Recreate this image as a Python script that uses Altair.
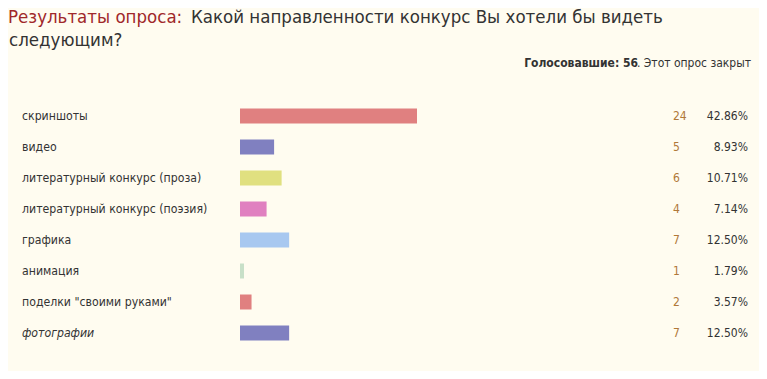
import altair as alt
import pandas as pd

labels = ["скриншоты", "видео", "литературный конкурс (проза)", "литературный конкурс (поэзия)",
          "графика", "анимация", "поделки \"своими руками\"", "фотографии"]
votes = [24, 5, 6, 4, 7, 1, 2, 7]
percents = ["42.86%", "8.93%", "10.71%", "7.14%", "12.50%", "1.79%", "3.57%", "12.50%"]
italic = [False, False, False, False, False, False, False, True]
bar_colors = ["#E08080", "#8080C0", "#E0E080", "#E080C0", "#A8C8F0", "#C8E0C8", "#E08080", "#8080C0"]

title_red = "Результаты опроса:"
title_rest = "Какой направленности конкурс Вы хотели бы видеть"
title_line2 = "следующим?"
voters_bold = "Голосовавшие: 56"
voters_rest = ". Этот опрос закрыт"

df = pd.DataFrame({"label": labels, "votes": votes, "pct": percents,
                   "italic": italic, "color": bar_colors})

FONT = "DejaVu Sans Condensed"
base = alt.Chart(df)
yenc = alt.Y("label:N", sort=labels, axis=None,
             scale=alt.Scale(range=[92.5, 340.5], paddingInner=0, paddingOuter=0))

bars = base.mark_bar(size=15).encode(
    x=alt.X("votes:Q", axis=None, stack=None,
            scale=alt.Scale(domain=[0, max(votes)], range=[228.5, 409], nice=False, zero=True)),
    x2=alt.value(232),
    y=yenc,
    color=alt.Color("color:N", scale=None),
)

lab_norm = base.transform_filter("!datum.italic").mark_text(
    align="left", baseline="middle", font=FONT, fontSize=12.2, color="#333333"
).encode(x=alt.value(14), y=yenc, text="label:N")

lab_it = base.transform_filter("datum.italic").mark_text(
    align="left", baseline="middle", font=FONT, fontSize=12.2, color="#333333", fontStyle="italic"
).encode(x=alt.value(14), y=yenc, text="label:N")

cnt = base.mark_text(align="left", baseline="middle", font=FONT, fontSize=12, color="#B07838").encode(
    x=alt.value(665), y=yenc, text="votes:Q")

pct = base.mark_text(align="right", baseline="middle", font=FONT, fontSize=12, color="#333333").encode(
    x=alt.value(740), y=yenc, text="pct:N")

def txt(s, x, y, **kw):
    return alt.Chart(df).transform_filter("datum.label == '" + labels[0] + "'").mark_text(
        text=s, baseline="alphabetic", font=FONT, **kw).encode(x=alt.value(x), y=alt.value(y))

t1 = txt(title_red, 0, 15, align="left", fontSize=18.5, color="#A0282A")
t2 = txt(title_rest, 183, 15, align="left", fontSize=18.5, color="#333333")
t3 = txt(title_line2, 1, 37.5, align="left", fontSize=18.5, color="#333333")
t4 = txt(voters_bold, 630, 59, align="right", fontSize=12, fontWeight="bold", color="#333333")
t5 = txt(voters_rest, 743, 59, align="right", fontSize=12, color="#333333")

chart = alt.layer(bars, lab_norm, lab_it, cnt, pct, t1, t2, t3, t4, t5).properties(
    width=751, height=363, background="#FFFCF0", padding=0,
    autosize=alt.AutoSizeParams(type="none"),
).configure_view(strokeWidth=0)

chart.save("out.html", embed_options={"renderer": "svg", "actions": False})
